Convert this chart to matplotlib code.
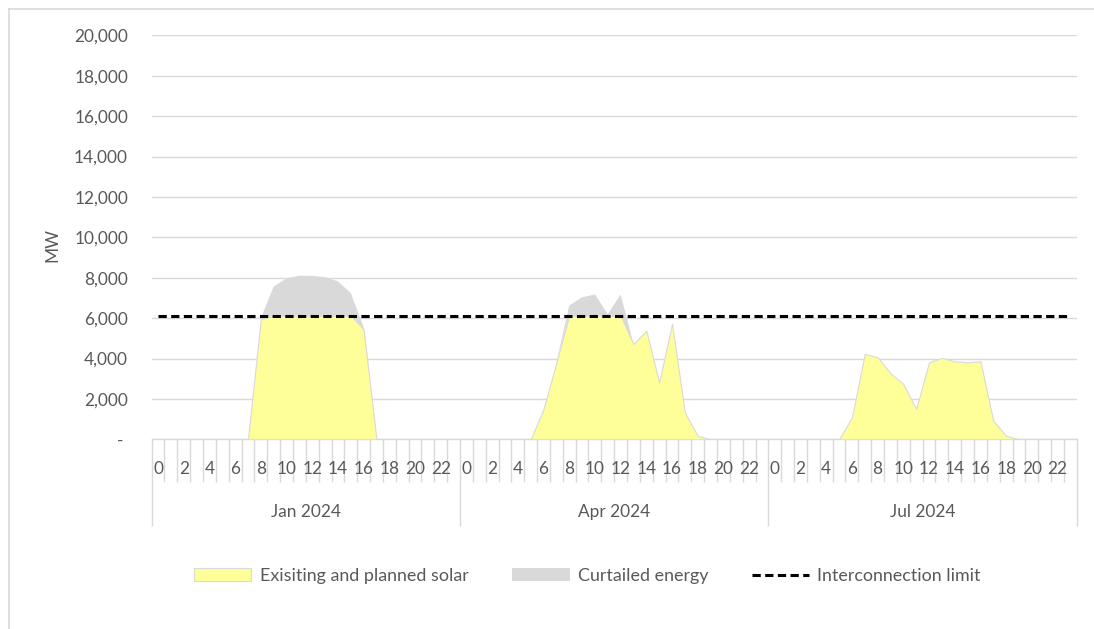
import numpy as np
import matplotlib
matplotlib.use("Agg")
import matplotlib.pyplot as plt
from matplotlib.lines import Line2D
from matplotlib.patches import Patch
from matplotlib.transforms import blended_transform_factory
from matplotlib.ticker import FixedLocator, FuncFormatter

# ---------------- data ----------------
months = ["Jan 2024", "Apr 2024", "Jul 2024"]
hours = list(range(24))

solar_jan = [0, 0, 0, 0, 0, 0, 0, 0, 5940, 6120, 6120, 6120, 6120, 6120, 6120, 6120,
             5450, 0, 0, 0, 0, 0, 0, 0]
curtailed_jan = [0, 0, 0, 0, 0, 0, 0, 0, 50, 1440, 1850, 1980, 1970, 1910, 1700, 1120,
                 100, 0, 0, 0, 0, 0, 0, 0]

solar_apr = [0, 0, 0, 0, 0, 0, 1500, 3800, 6120, 6120, 6120, 6120, 6120, 4720, 5380, 2820,
             5720, 1330, 170, 0, 0, 0, 0, 0]
curtailed_apr = [0, 0, 0, 0, 0, 0, 0, 0, 500, 910, 1050, 80, 1050, 0, 0, 0,
                 0, 0, 0, 0, 0, 0, 0, 0]

solar_jul = [0, 0, 0, 0, 0, 0, 1080, 4230, 4060, 3270, 2740, 1500, 3810, 4030, 3860, 3810,
             3860, 920, 170, 0, 0, 0, 0, 0]
curtailed_jul = [0] * 24

limit_mw = 6120
y_ticks = [0, 2000, 4000, 6000, 8000, 10000, 12000, 14000, 16000, 18000, 20000]
hour_labels = [0, 2, 4, 6, 8, 10, 12, 14, 16, 18, 20, 22]

legend_labels = ["Exisiting and planned solar", "Curtailed energy", "Interconnection limit"]

# ---------------- style ----------------
plt.rcParams["font.family"] = ["Lato", "DejaVu Sans"]
TXT = "#595959"
GRID = "#D9D9D9"
YELLOW = "#FFFF99"
GREY = "#D9D9D9"
FS = 12.4

# ---------------- figure ----------------
W, H = 1094, 629
fig = plt.figure(figsize=(W / 100, H / 100), dpi=100)
x0, x1 = 151.6, 1076.8
ytop, ybot = 35.3, 439.3
ax = fig.add_axes([x0 / W, 1 - ybot / H, (x1 - x0) / W, (ybot - ytop) / H])

solar = np.array(solar_jan + solar_apr + solar_jul, dtype=float)
curt = np.array(curtailed_jan + curtailed_apr + curtailed_jul, dtype=float)
n = len(solar)
x = np.arange(n) + 0.5

ax.fill_between(x, 0, solar, facecolor=YELLOW, edgecolor="#D9D9D9", linewidth=0.8, zorder=2)
ax.fill_between(x, solar, solar + curt, facecolor=GREY, edgecolor="none", linewidth=0, zorder=2)
ax.plot(x, np.full(n, limit_mw), color="black", linewidth=2.2,
        linestyle=(0, (2.7, 1.45)), zorder=3)

ax.set_xlim(0, n)
ax.set_ylim(0, 20000)
ax.set_yticks(y_ticks)
ax.yaxis.set_major_formatter(FuncFormatter(lambda v, p: "- " if v == 0 else f"{int(v):,}"))
ax.tick_params(axis="y", length=0, pad=17, labelsize=FS, labelcolor=TXT)
ax.grid(axis="y", color=GRID, linewidth=1.0, zorder=0)
ax.set_axisbelow(True)
for s in ["left", "right", "top"]:
    ax.spines[s].set_visible(False)
ax.spines["bottom"].set_color(GRID)
ax.spines["bottom"].set_linewidth(1.0)
ax.spines["bottom"].set_zorder(1)

# category boundaries: group boundaries as major ticks, hours as minor ticks
ax.xaxis.set_major_locator(FixedLocator([0, 24, 48, 72]))
ax.xaxis.set_minor_locator(FixedLocator(list(range(0, n + 1))))
ax.tick_params(axis="x", which="major", length=86.5 * 0.72, width=1.0, color=GRID,
               labelbottom=False)
ax.tick_params(axis="x", which="minor", length=42.5 * 0.72, width=1.0, color=GRID,
               labelbottom=False)

tr = blended_transform_factory(ax.transData, fig.transFigure)
for m in range(len(months)):
    for h in hour_labels:
        ax.text(m * 24 + h + 0.5, 1 - 469 / H, str(h), transform=tr, ha="center",
                va="center", fontsize=FS, color=TXT)
    ax.text(m * 24 + 12, 1 - 512 / H, months[m], transform=tr, ha="center",
            va="center", fontsize=FS, color=TXT)

fig.text(52 / W, 1 - 245 / H, "MW", rotation=90, ha="center", va="center",
         fontsize=FS, color=TXT)

handles = [Patch(facecolor=YELLOW, edgecolor="#D9D9D9", linewidth=0.8),
           Patch(facecolor=GREY, edgecolor="none"),
           Line2D([0], [0], color="black", linewidth=2.2, linestyle=(0, (2.7, 1.45)))]
LFS = 12.9
leg = fig.legend(handles, legend_labels, loc="center", bbox_to_anchor=(587.5 / W, 1 - 576 / H),
                 ncol=3, frameon=False, handlelength=3.2, handleheight=0.75,
                 handletextpad=0.45, columnspacing=2.45, fontsize=LFS)
for t in leg.get_texts():
    t.set_color(TXT)

# chart-area border (left and top visible)
fig.add_artist(Line2D([8.5 / W, 8.5 / W], [0, 1 - 9 / H], transform=fig.transFigure,
                      color=GRID, linewidth=1.2))
fig.add_artist(Line2D([8.5 / W, 1], [1 - 9 / H, 1 - 9 / H], transform=fig.transFigure,
                      color=GRID, linewidth=1.2))

fig.savefig("out.png", dpi=100)
